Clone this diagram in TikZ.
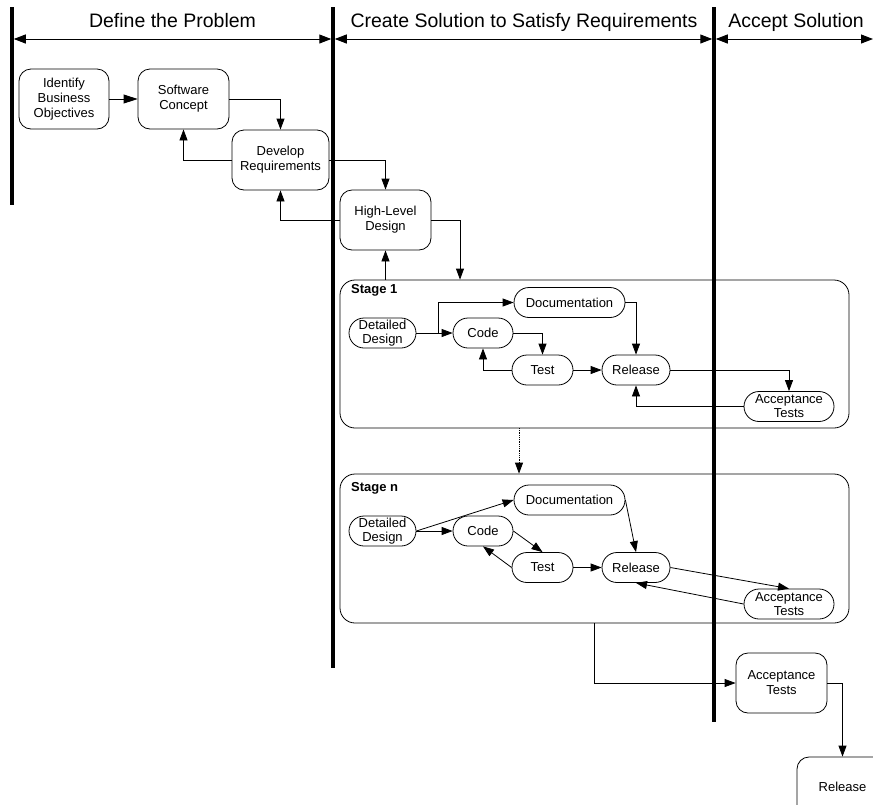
\documentclass[tikz,border=0pt]{standalone}
\usepackage{fontspec}
\setmainfont{Liberation Sans}
\usetikzlibrary{arrows.meta}
\begin{document}
\begin{tikzpicture}[x=1pt,y=-1pt,
  box/.style={draw, rounded corners=12pt, align=center, inner sep=0pt, font=\fontsize{13}{15}\selectfont, line width=0.8pt},
  pill/.style={draw, rounded corners=15pt, align=center, inner sep=0pt, font=\fontsize{13}{14}\selectfont, line width=0.8pt, minimum height=30pt},
  stagebox/.style={draw, rounded corners=15pt, inner sep=0pt, line width=0.8pt},
  stagelbl/.style={font=\fontsize{13}{15}\selectfont\bfseries, anchor=base west, inner sep=0pt},
  conn/.style={-{Triangle[length=11pt,width=8pt]}, line width=0.8pt},
  bigconn/.style={-{Triangle[length=14pt,width=9pt]}, line width=0.8pt},
  lane/.style={line width=3.5pt},
  hdr/.style={font=\fontsize{19.5}{22}\selectfont, anchor=base, inner sep=0pt},
  hdrarrow/.style={{Triangle[length=12pt,width=9pt]}-{Triangle[length=12pt,width=9pt]}, line width=1pt},
]
\clip (0,0) rectangle (873,804);

% lanes
\draw[lane] (12,7) -- (12,205);
\draw[lane] (333,7) -- (333,668);
\draw[lane] (714,7) -- (714,722);

% headers
\node[hdr] (h1) at (172.5,27) {Define the Problem};
\node[hdr] (h2) at (524,27) {Create Solution to Satisfy Requirements};
\node[hdr] (h3) at (796,27) {Accept Solution};
\coordinate (a1) at (13.75,39);
\coordinate (a2) at (331.25,39);
\coordinate (a3) at (334.75,39);
\coordinate (a4) at (712.25,39);
\coordinate (a5) at (715.75,39);
\coordinate (a6) at (873,39);
\draw[hdrarrow] (a1) -- (a2);
\draw[hdrarrow] (a3) -- (a4);
\draw[hdrarrow] (a5) -- (a6);

% top boxes
\node[box, minimum width=90pt, minimum height=60pt] (ibo) at (64,99) {Identify\\Business\\Objectives};
\node[box, minimum width=91pt, minimum height=60pt] (sc) at (183.5,99) {Software\\Concept};
\node[box, minimum width=97pt, minimum height=60pt] (dr) at (280.5,160) {Develop\\Requirements};
\node[box, minimum width=91pt, minimum height=60pt] (hld) at (385.5,220) {High-Level\\Design};

\draw[bigconn] (ibo.east) -- (sc.west);
\draw[conn] (sc.east) -| (dr.north);
\draw[conn] (dr.west) -| (sc.south);
\draw[conn] (dr.east) -| (hld.north);
\draw[conn] (hld.west) -| (dr.south);

% stage 1
\node[stagebox, minimum width=509pt, minimum height=148pt] (s1) at (594.5,354) {};
\node[stagelbl] (s1l) at (351,293) {Stage 1};
\node[pill, minimum width=67pt] (dd1) at (382.5,333) {Detailed\\Design};
\node[pill, minimum width=60pt] (code1) at (483,333) {Code};
\node[pill, minimum width=111pt] (doc1) at (569.5,302.5) {Documentation};
\node[pill, minimum width=61pt] (test1) at (542.5,370) {Test};
\node[pill, minimum width=68pt] (rel1) at (636,370) {Release};
\node[pill, minimum width=90pt] (at1) at (789,406.5) {Acceptance\\Tests};

\draw[conn] (s1.north -| hld.south) -- (hld.south);
\coordinate (hldr) at (460,220);
\draw[conn] (hld.east) -| (s1.north -| hldr);

\draw[conn] (dd1.east) -- (code1.west);
\coordinate (br1) at (438,333);
\draw[conn] (br1) |- (doc1.west);
\draw[conn] (code1.east) -| (test1.north);
\draw[conn] (test1.west) -| (code1.south);
\draw[conn] (test1.east) -- (rel1.west);
\draw[conn] (doc1.east) -| (rel1.north);
\draw[conn] (rel1.east) -| (at1.north);
\draw[conn] (at1.west) -| (rel1.south);

% stage n
\node[stagebox, minimum width=509pt, minimum height=149pt] (s2) at (594.5,548.5) {};
\node[stagelbl] (s2l) at (351,491) {Stage n};
\node[pill, minimum width=67pt] (dd2) at (382.5,531) {Detailed\\Design};
\node[pill, minimum width=60pt] (code2) at (483,531) {Code};
\node[pill, minimum width=111pt] (doc2) at (569.5,500) {Documentation};
\node[pill, minimum width=61pt] (test2) at (542.5,567.5) {Test};
\node[pill, minimum width=68pt] (rel2) at (636,567.5) {Release};
\node[pill, minimum width=90pt] (at2) at (789,604) {Acceptance\\Tests};

\coordinate (s1out) at (519,428);
\draw[conn, densely dotted] (s1out) -- (s1out |- s2.north);

\draw[conn] (dd2.east) -- (code2.west);
\draw[conn] (dd2.east) -- (doc2.west);
\draw[conn] (code2.east) -- (test2.north);
\draw[conn] (test2.west) -- (code2.south);
\draw[conn] (test2.east) -- (rel2.west);
\draw[conn] (doc2.east) -- (rel2.north);
\draw[conn] (rel2.east) -- (at2.north);
\draw[conn] (at2.west) -- (rel2.south);

% accept
\node[box, minimum width=91pt, minimum height=60pt] (at3) at (781.5,683) {Acceptance\\Tests};
\node[box, minimum width=91pt, minimum height=60pt] (rel3) at (842.5,787) {Release};
\coordinate (s2out) at (594,623);
\draw[conn] (s2out) |- (at3.west);
\draw[conn] (at3.east) -| (rel3.north);
\end{tikzpicture}
\end{document}
